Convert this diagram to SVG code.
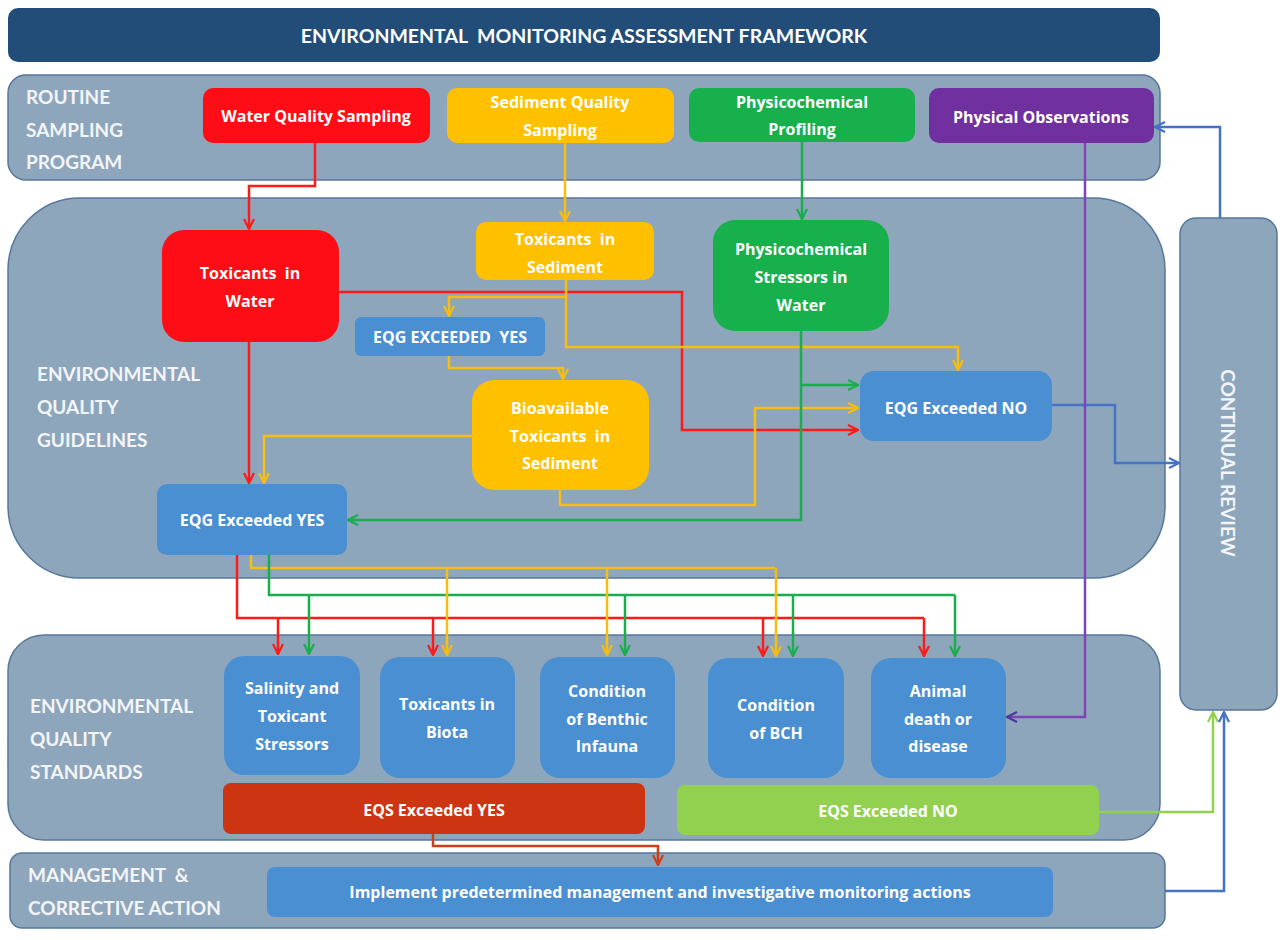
<svg xmlns="http://www.w3.org/2000/svg" width="1286" height="940" viewBox="0 0 1286 940">
  <style>
    text { white-space: pre; }
    .band { fill: #8ea6bc; stroke: #56779a; stroke-width: 1.5; }
    .blbl { font-family: Lato, "Liberation Sans", sans-serif; font-weight: 700; font-size: 19px; fill: #f3f5f8; }
    .ntxt { font-family: "Open Sans", "Liberation Sans", sans-serif; font-weight: 700; font-size: 16px; fill: #ffffff; text-anchor: middle; }
    .red { fill: #ff0d16; }
    .yel { fill: #ffc000; }
    .grn { fill: #17b04d; }
    .pur { fill: #7030a0; }
    .blu { fill: #4a8fd2; }
    .c { fill: none; stroke-width: 2.5; stroke-linejoin: miter; }
    .cr { stroke: #ff1a1a; }
    .cy { stroke: #f7bd10; }
    .cg { stroke: #1aad4d; }
    .cb { stroke: #4472c4; }
    .cp { stroke: #7d45b5; }
    .cl { stroke: #92d050; }
    .co { stroke: #cc4018; }
  </style>
  <defs>
    <marker id="ar" viewBox="0 0 12 12" markerWidth="12" markerHeight="12" refX="11" refY="6" orient="auto" markerUnits="userSpaceOnUse"><path d="M1,1 L11,6 L1,11" fill="none" stroke="#ff1a1a" stroke-width="2.2"/></marker>
    <marker id="ay" viewBox="0 0 12 12" markerWidth="12" markerHeight="12" refX="11" refY="6" orient="auto" markerUnits="userSpaceOnUse"><path d="M1,1 L11,6 L1,11" fill="none" stroke="#f7bd10" stroke-width="2.2"/></marker>
    <marker id="ag" viewBox="0 0 12 12" markerWidth="12" markerHeight="12" refX="11" refY="6" orient="auto" markerUnits="userSpaceOnUse"><path d="M1,1 L11,6 L1,11" fill="none" stroke="#1aad4d" stroke-width="2.2"/></marker>
    <marker id="ab" viewBox="0 0 12 12" markerWidth="12" markerHeight="12" refX="11" refY="6" orient="auto" markerUnits="userSpaceOnUse"><path d="M1,1 L11,6 L1,11" fill="none" stroke="#4472c4" stroke-width="2.2"/></marker>
    <marker id="ap" viewBox="0 0 12 12" markerWidth="12" markerHeight="12" refX="11" refY="6" orient="auto" markerUnits="userSpaceOnUse"><path d="M1,1 L11,6 L1,11" fill="none" stroke="#4b3a9c" stroke-width="2.2"/></marker>
    <marker id="al" viewBox="0 0 12 12" markerWidth="12" markerHeight="12" refX="11" refY="6" orient="auto" markerUnits="userSpaceOnUse"><path d="M1,1 L11,6 L1,11" fill="none" stroke="#92d050" stroke-width="2.2"/></marker>
    <marker id="ao" viewBox="0 0 12 12" markerWidth="12" markerHeight="12" refX="11" refY="6" orient="auto" markerUnits="userSpaceOnUse"><path d="M1,1 L11,6 L1,11" fill="none" stroke="#cc4018" stroke-width="2.2"/></marker>
  </defs>

  <rect width="1286" height="940" fill="#ffffff"/>

  <!-- title -->
  <g id="title">
    <rect x="8" y="8" width="1152" height="54" rx="10" fill="#214d78"/>
    <text x="584" y="43" text-anchor="middle" font-family="Lato, 'Liberation Sans', sans-serif" font-weight="700" font-size="19.5" fill="#ffffff">ENVIRONMENTAL  MONITORING ASSESSMENT FRAMEWORK</text>
  </g>

  <!-- bands -->
  <g id="band-routine">
    <rect class="band" x="8" y="75" width="1152" height="105" rx="18"/>
    <text class="blbl" x="26" y="104">ROUTINE</text>
    <text class="blbl" x="26" y="137">SAMPLING</text>
    <text class="blbl" x="26" y="169">PROGRAM</text>
  </g>
  <g id="band-eqg">
    <rect class="band" x="8" y="198" width="1157" height="380" rx="72"/>
    <text class="blbl" x="37" y="381">ENVIRONMENTAL</text>
    <text class="blbl" x="37" y="414">QUALITY</text>
    <text class="blbl" x="37" y="447">GUIDELINES</text>
  </g>
  <g id="band-eqs">
    <rect class="band" x="8" y="635" width="1152" height="205" rx="36"/>
    <text class="blbl" x="30" y="713">ENVIRONMENTAL</text>
    <text class="blbl" x="30" y="746">QUALITY</text>
    <text class="blbl" x="30" y="779">STANDARDS</text>
  </g>
  <g id="band-management">
    <rect class="band" x="10" y="853" width="1155" height="75" rx="12"/>
    <text class="blbl" x="28" y="882">MANAGEMENT  &amp;</text>
    <text class="blbl" x="28" y="915">CORRECTIVE ACTION</text>
  </g>
  <g id="continual-review">
    <rect class="band" x="1180" y="218" width="97" height="492" rx="16"/>
    <text class="blbl" transform="translate(1221,463) rotate(90)" text-anchor="middle">CONTINUAL REVIEW</text>
  </g>

  <!-- connectors -->
  <g id="connectors">
    <path class="c cr" d="M315,143 V186 H249 V229" marker-end="url(#ar)"/>
    <path class="c cy" d="M565,143 V221" marker-end="url(#ay)"/>
    <path class="c cg" d="M802,142 V219" marker-end="url(#ag)"/>

    <path class="c cr" d="M249,342 V483" marker-end="url(#ar)"/>
    <path class="c cr" d="M339,292 H682 V430 H858" marker-end="url(#ar)"/>
    <path class="c cy" d="M566,280 V347 H958 V370" marker-end="url(#ay)"/>
    <path class="c cy" d="M566,297 H449 V316" marker-end="url(#ay)"/>
    <path class="c cy" d="M449,356 V368 H563 V379" marker-end="url(#ay)"/>
    <path class="c cy" d="M472,436 H264 V483" marker-end="url(#ay)"/>
    <path class="c cy" d="M560,490 V505 H755 V408 H858" marker-end="url(#ay)"/>
    <path class="c cg" d="M801,331 V520 H348" marker-end="url(#ag)"/>
    <path class="c cg" d="M801,385 H858" marker-end="url(#ag)"/>

    <path class="c cb" d="M1052,405 H1115 V463 H1179" marker-end="url(#ab)"/>
    <path class="c cb" d="M1220,218 V127 H1155" marker-end="url(#ab)"/>
    <path class="c cp" d="M1085,143 V717 H1007" marker-end="url(#ap)"/>

    <path class="c cy" d="M251,555 V568 H775"/>
    <path class="c cg" d="M269,555 V595 H955"/>
    <path class="c cr" d="M237,555 V618 H924"/>

    <path class="c cr" d="M278,618 V654" marker-end="url(#ar)"/>
    <path class="c cg" d="M309,595 V654" marker-end="url(#ag)"/>
    <path class="c cr" d="M433,618 V655" marker-end="url(#ar)"/>
    <path class="c cy" d="M447,568 V655" marker-end="url(#ay)"/>
    <path class="c cy" d="M607,568 V655" marker-end="url(#ay)"/>
    <path class="c cg" d="M625,595 V655" marker-end="url(#ag)"/>
    <path class="c cr" d="M763,618 V656" marker-end="url(#ar)"/>
    <path class="c cy" d="M776,568 V656" marker-end="url(#ay)"/>
    <path class="c cg" d="M793,595 V656" marker-end="url(#ag)"/>
    <path class="c cr" d="M924,618 V656" marker-end="url(#ar)"/>
    <path class="c cg" d="M955,595 V656" marker-end="url(#ag)"/>

    <path class="c co" d="M433,834 V846 H658 V865" marker-end="url(#ao)"/>
    <path class="c cl" d="M1099,812 H1213 V712" marker-end="url(#al)"/>
    <path class="c cb" d="M1165,891 H1224 V712" marker-end="url(#ab)"/>
  </g>

  <!-- sampling nodes -->
  <g id="water-quality-sampling">
    <rect class="red" x="203" y="88" width="227" height="55" rx="10"/>
    <text class="ntxt" x="316" y="122">Water Quality Sampling</text>
  </g>
  <g id="sediment-quality-sampling">
    <rect class="yel" x="447" y="88" width="227" height="55" rx="10"/>
    <text class="ntxt" x="560" y="108">Sediment Quality</text>
    <text class="ntxt" x="560" y="136">Sampling</text>
  </g>
  <g id="physicochemical-profiling">
    <rect class="grn" x="689" y="88" width="226" height="54" rx="10"/>
    <text class="ntxt" x="802" y="108">Physicochemical</text>
    <text class="ntxt" x="802" y="135">Profiling</text>
  </g>
  <g id="physical-observations">
    <rect class="pur" x="929" y="88" width="225" height="55" rx="10"/>
    <text class="ntxt" x="1041" y="123">Physical Observations</text>
  </g>

  <!-- guideline nodes -->
  <g id="toxicants-in-water">
    <rect class="red" x="162" y="230" width="177" height="112" rx="22"/>
    <text class="ntxt" x="250" y="279">Toxicants  in</text>
    <text class="ntxt" x="250" y="307">Water</text>
  </g>
  <g id="toxicants-in-sediment">
    <rect class="yel" x="476" y="222" width="178" height="58" rx="10"/>
    <text class="ntxt" x="565" y="245">Toxicants  in</text>
    <text class="ntxt" x="565" y="273">Sediment</text>
  </g>
  <g id="physicochemical-stressors">
    <rect class="grn" x="713" y="220" width="176" height="111" rx="22"/>
    <text class="ntxt" x="801" y="255">Physicochemical</text>
    <text class="ntxt" x="801" y="283">Stressors in</text>
    <text class="ntxt" x="801" y="311">Water</text>
  </g>
  <g id="eqg-exceeded-yes-sediment">
    <rect class="blu" x="355" y="317" width="190" height="39" rx="6"/>
    <text class="ntxt" x="450" y="343">EQG EXCEEDED  YES</text>
  </g>
  <g id="bioavailable-toxicants">
    <rect class="yel" x="472" y="380" width="177" height="110" rx="22"/>
    <text class="ntxt" x="560" y="414">Bioavailable</text>
    <text class="ntxt" x="560" y="442">Toxicants  in</text>
    <text class="ntxt" x="560" y="469">Sediment</text>
  </g>
  <g id="eqg-exceeded-no">
    <rect class="blu" x="860" y="371" width="192" height="70" rx="14"/>
    <text class="ntxt" x="956" y="414">EQG Exceeded NO</text>
  </g>
  <g id="eqg-exceeded-yes">
    <rect class="blu" x="157" y="484" width="190" height="71" rx="10"/>
    <text class="ntxt" x="252" y="526">EQG Exceeded YES</text>
  </g>

  <!-- standard nodes -->
  <g id="salinity-toxicant-stressors">
    <rect class="blu" x="224" y="656" width="136" height="119" rx="20"/>
    <text class="ntxt" x="292" y="694">Salinity and</text>
    <text class="ntxt" x="292" y="722">Toxicant</text>
    <text class="ntxt" x="292" y="750">Stressors</text>
  </g>
  <g id="toxicants-in-biota">
    <rect class="blu" x="380" y="657" width="135" height="121" rx="20"/>
    <text class="ntxt" x="447" y="710">Toxicants in</text>
    <text class="ntxt" x="447" y="738">Biota</text>
  </g>
  <g id="condition-benthic-infauna">
    <rect class="blu" x="540" y="657" width="135" height="121" rx="20"/>
    <text class="ntxt" x="607" y="697">Condition</text>
    <text class="ntxt" x="607" y="725">of Benthic</text>
    <text class="ntxt" x="607" y="752">Infauna</text>
  </g>
  <g id="condition-bch">
    <rect class="blu" x="708" y="658" width="136" height="120" rx="20"/>
    <text class="ntxt" x="776" y="711">Condition</text>
    <text class="ntxt" x="776" y="739">of BCH</text>
  </g>
  <g id="animal-death-disease">
    <rect class="blu" x="871" y="658" width="135" height="120" rx="20"/>
    <text class="ntxt" x="938" y="697">Animal</text>
    <text class="ntxt" x="938" y="725">death or</text>
    <text class="ntxt" x="938" y="752">disease</text>
  </g>
  <g id="eqs-exceeded-yes">
    <rect x="223" y="783" width="422" height="51" rx="8" fill="#cd3412"/>
    <text class="ntxt" x="434" y="816">EQS Exceeded YES</text>
  </g>
  <g id="eqs-exceeded-no">
    <rect x="677" y="785" width="422" height="50" rx="8" fill="#92d050"/>
    <text class="ntxt" x="888" y="817">EQS Exceeded NO</text>
  </g>

  <!-- management node -->
  <g id="implement-actions">
    <rect class="blu" x="267" y="867" width="786" height="50" rx="8"/>
    <text class="ntxt" x="660" y="898">Implement predetermined management and investigative monitoring actions</text>
  </g>
</svg>
